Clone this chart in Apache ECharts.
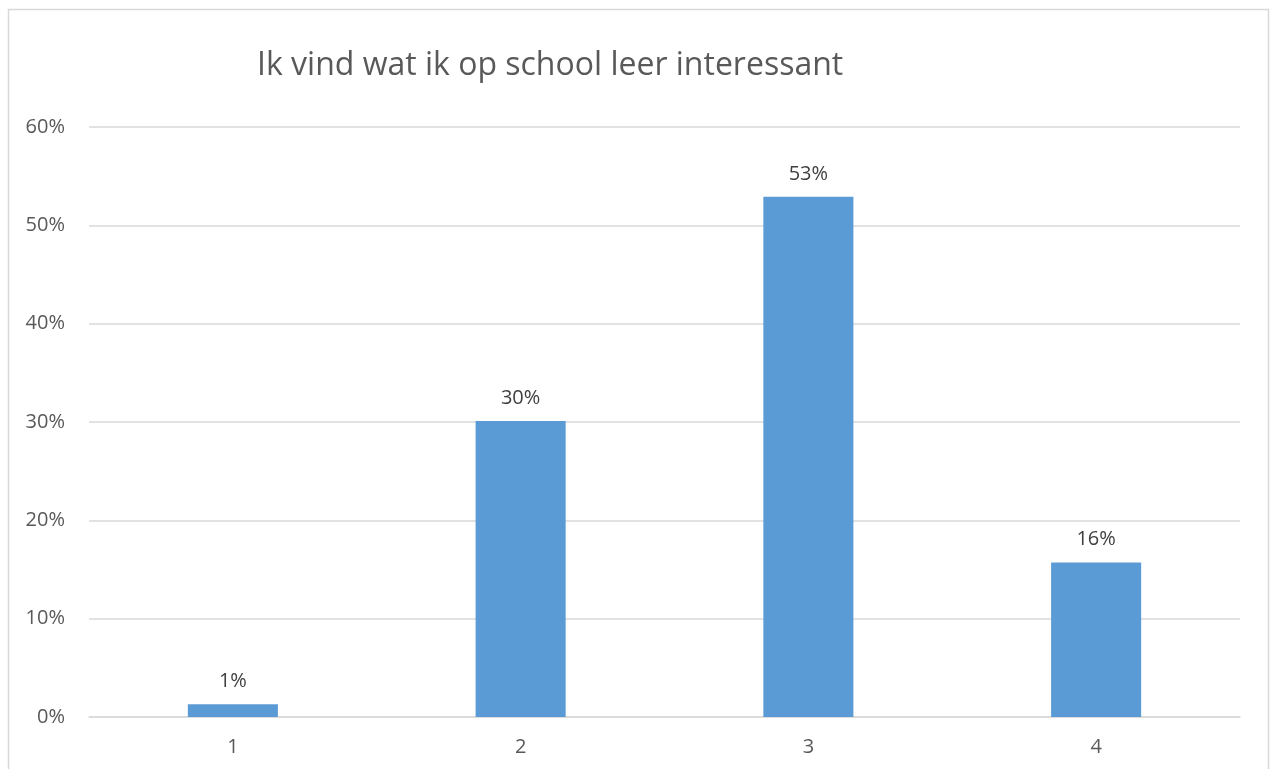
<!DOCTYPE html>
<html>
<head>
<meta charset="utf-8">
<script src="https://cdn.jsdelivr.net/npm/echarts@6/dist/echarts.min.js"></script>
<style>
html,body{margin:0;padding:0;background:#fff;}
#c{width:1272px;height:769px;}
</style>
</head>
<body>
<div id="c"></div>
<script>
const titleText = 'Ik vind wat ik op school leer interessant';
const categories = ['1', '2', '3', '4'];
const values = [1.3, 30.1, 52.9, 15.7];
const roundedLabels = ['1%', '30%', '53%', '16%'];

const chart = echarts.init(document.getElementById('c'));
const font = 'Open Sans';
chart.setOption({
  animation: false,
  backgroundColor: '#fff',
  title: {
    text: titleText,
    left: 252,
    top: 45,
    textStyle: {fontFamily: font, fontSize: 32, fontWeight: 'normal', color: '#595959'}
  },
  graphic: [{
    type: 'rect',
    shape: {x: 8.5, y: 9.5, width: 1260, height: 800},
    style: {fill: 'none', stroke: '#d9d9d9', lineWidth: 1.5},
    silent: true
  }],
  grid: {left: 89, right: 32, top: 127, bottom: 52, containLabel: false},
  xAxis: {
    type: 'category',
    data: categories,
    axisLine: {show: true, lineStyle: {color: '#d9d9d9', width: 1.5}},
    axisTick: {show: false},
    axisLabel: {fontFamily: font, fontSize: 20, color: '#595959', margin: 20}
  },
  yAxis: {
    type: 'value',
    min: 0, max: 60, interval: 10,
    axisLine: {show: false},
    axisTick: {show: false},
    splitLine: {lineStyle: {color: '#d9d9d9', width: 1.5}},
    axisLabel: {fontFamily: font, fontSize: 20, color: '#595959', margin: 24, formatter: '{value}%'}
  },
  series: [{
    type: 'bar',
    data: values,
    barWidth: '31.3%',
    itemStyle: {color: '#5b9bd5'},
    label: {
      show: true, position: 'top', distance: 13,
      fontFamily: font, fontSize: 20, color: '#404040',
      formatter: p => roundedLabels[p.dataIndex]
    }
  }]
});
</script>
</body>
</html>
